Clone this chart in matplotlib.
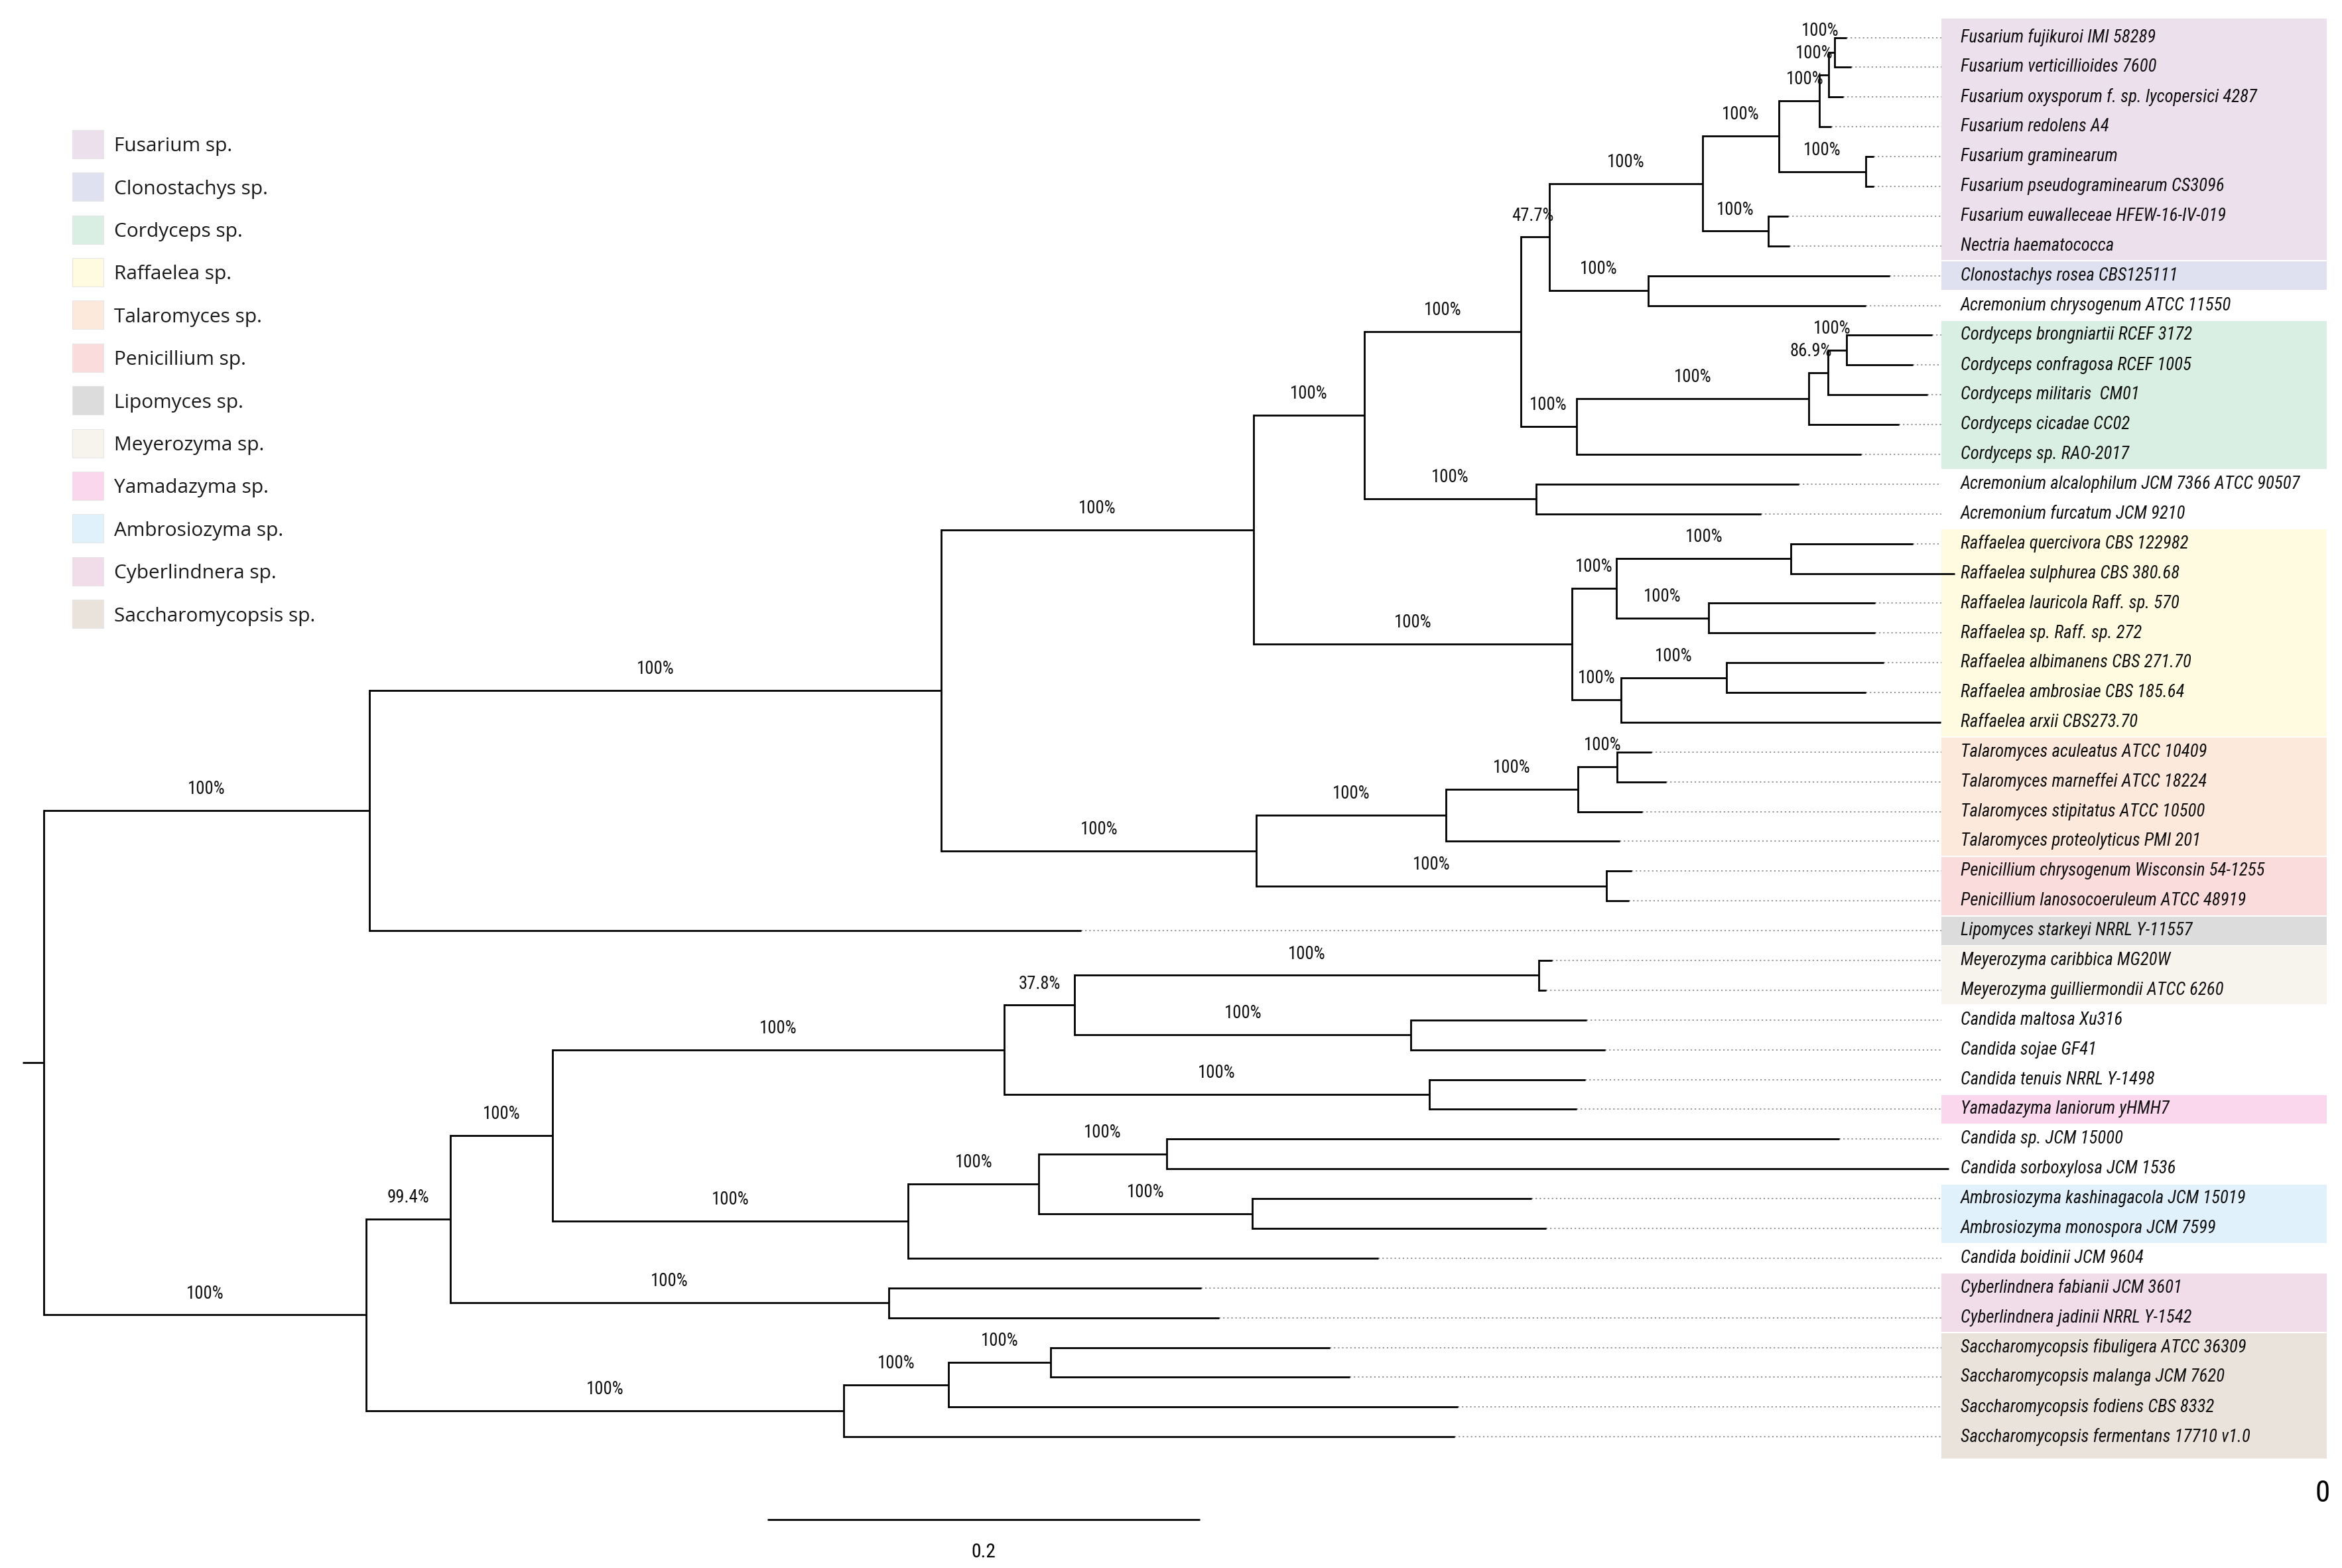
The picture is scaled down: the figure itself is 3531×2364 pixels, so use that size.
import re
import matplotlib
matplotlib.use("Agg")
import matplotlib.pyplot as plt
from matplotlib import font_manager
from matplotlib.patches import Rectangle

# leaf labels, top to bottom
leaves = [
    "Fusarium fujikuroi IMI 58289", "Fusarium verticillioides 7600",
    "Fusarium oxysporum f. sp. lycopersici 4287", "Fusarium redolens A4",
    "Fusarium graminearum", "Fusarium pseudograminearum CS3096",
    "Fusarium euwalleceae HFEW-16-IV-019", "Nectria haematococca",
    "Clonostachys rosea CBS125111", "Acremonium chrysogenum ATCC 11550",
    "Cordyceps brongniartii RCEF 3172", "Cordyceps confragosa RCEF 1005",
    "Cordyceps militaris  CM01", "Cordyceps cicadae CC02",
    "Cordyceps sp. RAO-2017", "Acremonium alcalophilum JCM 7366 ATCC 90507",
    "Acremonium furcatum JCM 9210", "Raffaelea quercivora CBS 122982",
    "Raffaelea sulphurea CBS 380.68", "Raffaelea lauricola Raff. sp. 570",
    "Raffaelea sp. Raff. sp. 272", "Raffaelea albimanens CBS 271.70",
    "Raffaelea ambrosiae CBS 185.64", "Raffaelea arxii CBS273.70",
    "Talaromyces aculeatus ATCC 10409", "Talaromyces marneffei ATCC 18224",
    "Talaromyces stipitatus ATCC 10500", "Talaromyces proteolyticus PMI 201",
    "Penicillium chrysogenum Wisconsin 54-1255", "Penicillium lanosocoeruleum ATCC 48919",
    "Lipomyces starkeyi NRRL Y-11557", "Meyerozyma caribbica MG20W",
    "Meyerozyma guilliermondii ATCC 6260", "Candida maltosa Xu316",
    "Candida sojae GF41", "Candida tenuis NRRL Y-1498",
    "Yamadazyma laniorum yHMH7", "Candida sp. JCM 15000",
    "Candida sorboxylosa JCM 1536", "Ambrosiozyma kashinagacola JCM 15019",
    "Ambrosiozyma monospora JCM 7599", "Candida boidinii JCM 9604",
    "Cyberlindnera fabianii JCM 3601", "Cyberlindnera jadinii NRRL Y-1542",
    "Saccharomycopsis fibuligera ATCC 36309", "Saccharomycopsis malanga JCM 7620",
    "Saccharomycopsis fodiens CBS 8332", "Saccharomycopsis fermentans 17710 v1.0",
]

# genus highlight of each leaf (None = no box)
leaf_group = (["Fusarium"] * 8 + ["Clonostachys", None] + ["Cordyceps"] * 5 + [None, None]
              + ["Raffaelea"] * 7 + ["Talaromyces"] * 4 + ["Penicillium"] * 2
              + ["Lipomyces"] + ["Meyerozyma"] * 2 + [None, None, None] + ["Yamadazyma"]
              + [None, None] + ["Ambrosiozyma"] * 2 + [None] + ["Cyberlindnera"] * 2
              + ["Saccharomycopsis"] * 4)

legend_names = ["Fusarium", "Clonostachys", "Cordyceps", "Raffaelea", "Talaromyces",
                "Penicillium", "Lipomyces", "Meyerozyma", "Yamadazyma", "Ambrosiozyma",
                "Cyberlindnera", "Saccharomycopsis"]
legend_colors = ["#ece0ec", "#e0e1f0", "#d9efe4", "#fefbe0", "#fde8dc", "#fbdcdd",
                 "#dcdcdc", "#f7f4ee", "#fad7ec", "#e0f1fb", "#f1dce9", "#e9e3dc"]

# topology (leaf numbers index into leaves), bootstrap support and branch lengths
tree_newick = (
    "((((((((((((0:0.0056,1:0.0076)100:0.0028,2:0.0069)100:0.0042,3:0.0056)100:0.0188,"
    "(4:0.0035,5:0.0035)100:0.0403)100:0.0354,(6:0.0090,7:0.0097)100:0.0306)100:0.0708,"
    "(8:0.1118,9:0.1007)100:0.0458)47.7:0.0132,"
    "((((10:0.0396,11:0.0306)100:0.0086,12:0.0461)86.9:0.0088,13:0.0417)100:0.1076,"
    "14:0.1319)100:0.0257)100:0.0722,(15:0.1215,16:0.1042)100:0.0792)100:0.0514,"
    "(((17:0.0563,18:0.0757)100:0.0806,(19:0.0771,20:0.0771)100:0.0424)100:0.0208,"
    "((21:0.0729,22:0.0646)100:0.0486,23:0.1479)100:0.0229)100:0.1472)100:0.1444,"
    "((((24:0.0160,25:0.0229)100:0.0181,26:0.0299)100:0.0611,27:0.0806)100:0.0875,"
    "(28:0.0118,29:0.0104)100:0.1618)100:0.1458)100:0.2646,30:0.3292)100:0.1507,"
    "((((((31:0.0063,32:0.0035)100:0.2146,(33:0.0813,34:0.0896)100:0.1556)37.8:0.0326,"
    "(35:0.0722,36:0.0681)100:0.1965)100:0.2090,"
    "(((37:0.3111,38:0.3618)100:0.0590,(39:0.1292,40:0.1361)100:0.0986)100:0.0604,"
    "41:0.2174)100:0.1646)100:0.0472,(42:0.1444,43:0.1528)100:0.2028)99.4:0.0389,"
    "(((44:0.1292,45:0.1382)100:0.0472,46:0.2354)100:0.0486,47:0.2826)100:0.2208)100:0.1493"
    "):0.0097;"
)
scale_len = 0.2

# a narrow sans for the tree text
names = {f.name for f in font_manager.fontManager.ttflist}
narrow = "Liberation Sans"
for fam in ["Liberation Sans Narrow", "Arial Narrow", "Roboto Condensed", "Open Sans Condensed"]:
    if fam in names:
        narrow = fam
        break


def parse(s):
    tokens = re.findall(r"\(|\)|,|;|[^(),;]+", s)
    pos = 0

    def node():
        nonlocal pos
        n = {"children": [], "leaf": None, "support": None, "length": 0.0}
        if tokens[pos] == "(":
            pos += 1
            n["children"].append(node())
            while tokens[pos] == ",":
                pos += 1
                n["children"].append(node())
            pos += 1  # ')'
            if pos < len(tokens) and tokens[pos] not in ("(", ")", ",", ";"):
                lab = tokens[pos]
                pos += 1
                sup, _, ln = lab.partition(":")
                if sup:
                    n["support"] = float(sup)
                if ln:
                    n["length"] = float(ln)
        else:
            lab = tokens[pos]
            pos += 1
            lf, _, ln = lab.partition(":")
            n["leaf"] = int(lf)
            n["length"] = float(ln) if ln else 0.0
        return n

    return node()


root = parse(tree_newick)


def layout(n, x0):
    n["x0"] = x0
    n["x"] = x0 + n["length"]
    if n["leaf"] is not None:
        n["y"] = float(n["leaf"])
    else:
        for c in n["children"]:
            layout(c, n["x"])
        n["y"] = (n["children"][0]["y"] + n["children"][-1]["y"]) / 2


layout(root, 0.0)

W, H = 3531, 2364
fig = plt.figure(figsize=(W / 100, H / 100), dpi=100)
renderer = fig.canvas.get_renderer()


def fit_size(text, target_px, **kw):
    # font size that makes `text` about target_px wide
    t = fig.text(0, 0, text, fontsize=10, **kw)
    w = t.get_window_extent(renderer).width
    t.remove()
    return 10 * target_px / w


leaf_fs = fit_size(leaves[0], 294, family=narrow, style="italic")
sup_fs = fit_size("100%", 56, family=narrow)
big_fs = fit_size("0", 22, family=narrow)

ax = fig.add_axes([0, 0, 1, 1])
ax.set_xlim(-15 / 1440, (W / 2.2635 - 15) / 1440)
ax.set_ylim((H / 2.2635 - 25) / 19.83, -25 / 19.83)
ax.axis("off")

box_x0, box_x1 = (1293 - 15) / 1440, (1550 - 15) / 1440
label_x = (1306 - 15) / 1440
lw = 2.0

# genus boxes
col = dict(zip(legend_names, legend_colors))
i = 0
while i < len(leaves):
    g = leaf_group[i]
    j = i
    while j + 1 < len(leaves) and leaf_group[j + 1] == g:
        j += 1
    if g is not None:
        top = i - 0.5 if i > 0 else i - 0.65
        bot = j + 0.5 if j < len(leaves) - 1 else j + 0.75
        ax.add_patch(Rectangle((box_x0, top + 0.02), box_x1 - box_x0, bot - top - 0.04,
                               facecolor=col[g], edgecolor="none", zorder=0))
    i = j + 1


def draw(n):
    ax.plot([n["x0"], n["x"]], [n["y"], n["y"]], color="black", lw=lw,
            solid_capstyle="butt", zorder=3)
    if n["leaf"] is not None:
        if n["x"] < box_x0:
            ax.plot([n["x"], box_x0], [n["y"], n["y"]], color="#8c8c8c", lw=1.3,
                    linestyle=(0, (1.2, 2.2)), zorder=2)
        ax.text(label_x, n["y"], leaves[n["leaf"]], fontsize=leaf_fs, style="italic",
                family=narrow, va="center", ha="left", zorder=4, color="#111111")
        return
    ys = [c["y"] for c in n["children"]]
    ax.plot([n["x"], n["x"]], [min(ys), max(ys)], color="black", lw=lw,
            solid_capstyle="projecting", zorder=3)
    if n["support"] is not None and n is not root:
        s = n["support"]
        txt = ("%d%%" % s) if s == int(s) else ("%.1f%%" % s)
        if n["length"] < 0.019:
            ax.text(n["x"] + 0.002, n["y"] - 0.72, txt, fontsize=sup_fs, family=narrow,
                    ha="right", va="center", zorder=4, color="#111111")
        else:
            ax.text((n["x0"] + n["x"]) / 2, n["y"] - 0.72, txt, fontsize=sup_fs,
                    family=narrow, ha="center", va="center", zorder=4, color="#111111")
    for c in n["children"]:
        draw(c)


draw(root)

# scale bar
sb_x = (511 - 15) / 1440
sb_y = (1012 - 25) / 19.83
ax.plot([sb_x, sb_x + scale_len], [sb_y, sb_y], color="black", lw=lw, solid_capstyle="butt")
ax.text(sb_x + scale_len / 2, (1034 - 25) / 19.83, "%.1f" % scale_len, fontsize=sup_fs * 1.1,
        family=narrow, ha="center", va="center")

# legend and the stray "0", in reference pixel layout
lay = fig.add_axes([0, 0, 1, 1])
lay.set_xlim(0, W / 2.2635)
lay.set_ylim(H / 2.2635, 0)
lay.axis("off")
lay.patch.set_alpha(0)
for k, (g, c) in enumerate(zip(legend_names, legend_colors)):
    yc = 96 + k * 28.45
    lay.add_patch(Rectangle((48, yc - 9.5), 21, 19, facecolor=c, edgecolor="#e6e6e6", lw=0.8))
    lay.text(76, yc + 1.5, g + " sp.", fontsize=21.5, family="Open Sans", va="center",
             ha="left", color="#1a1a1a")
lay.text(1547, 995, "0", fontsize=big_fs, family=narrow, ha="center", va="center")

fig.savefig("out.png", dpi=100)
